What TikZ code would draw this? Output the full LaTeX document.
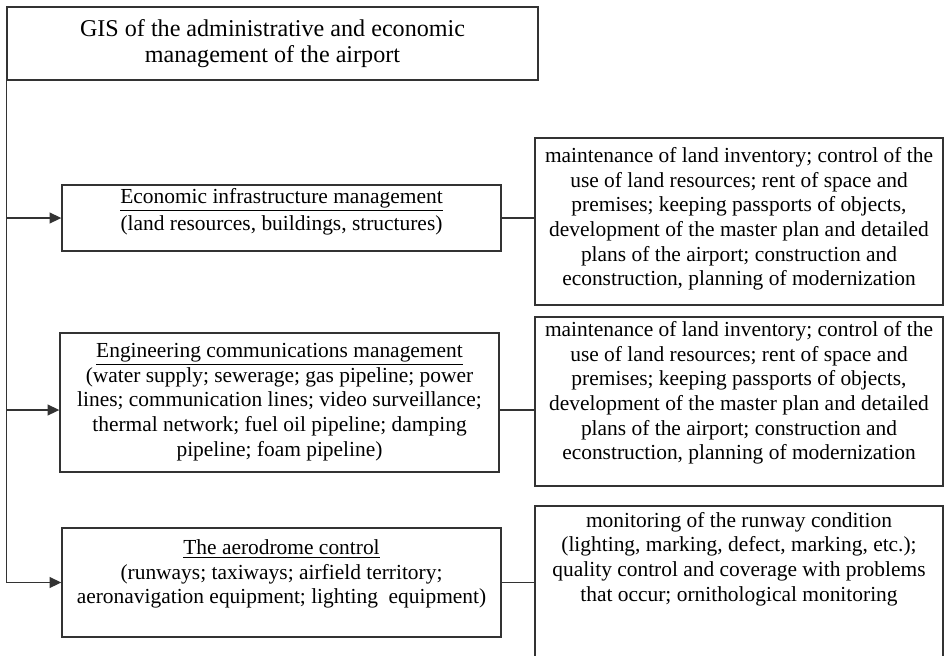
\documentclass[tikz,border=0pt]{standalone}
\usepackage{fontspec}
\setmainfont{Liberation Serif}
\usepackage{tikz}
\usetikzlibrary{arrows.meta}
\usetikzlibrary{positioning}

\begin{document}
\begin{tikzpicture}[
  x=0.56pt,y=-0.56pt,
  line width=0.75pt,
  frame/.style={rectangle,draw=black!80,inner sep=0pt},
  txt/.style={align=center,inner sep=0pt,font=\fontsize{12}{13.8}\selectfont},
  link/.style={draw=black!80},
  arr/.style={link,-{Triangle[length=6.5pt,width=6pt]}}]
\useasboundingbox (0,0) rectangle (944,655);
\clip (0,0) rectangle (944,655);
% title
\node[frame,minimum width=531*0.56pt,minimum height=73*0.56pt,align=center,
  font=\fontsize{13.5}{14.8}\selectfont] (gis) at (272.5,43.5)
  {GIS of the administrative and economic\\management of the airport};
% left column
\node[frame,minimum width=439*0.56pt,minimum height=66*0.56pt] (econ) at (281.5,218) {};
\node[txt] (econ-txt) at (281.5,212)
  {\underline{Economic infrastructure management}\\[1.5pt](land resources, buildings, structures)};
\node[frame,minimum width=439*0.56pt,minimum height=139*0.56pt] (eng) at (279.5,402.5) {};
\node[txt] (eng-txt) at (279.5,402)
  {\underline{Engineering communications management}\\(water supply; sewerage; gas pipeline; power\\
   lines; communication lines; video surveillance;\\thermal network; fuel oil pipeline; damping\\
   pipeline; foam pipeline)};
\node[frame,minimum width=439*0.56pt,minimum height=109*0.56pt] (aero) at (281.5,582.5) {};
\node[txt] (aero-txt) at (281.5,574)
  {\underline{The aerodrome control}\\(runways; taxiways; airfield territory;\\
   aeronavigation equipment; lighting\ \ equipment)};
% right column
\node[frame,minimum width=408*0.56pt,minimum height=167*0.56pt] (econ-tasks) at (739,221.5) {};
\node[txt] (econ-tasks-txt) at (739,219)
  {maintenance of land inventory; control of the\\use of land resources; rent of space and\\
   premises; keeping passports of objects,\\development of the master plan and detailed\\
   plans of the airport; construction and\\econstruction, planning of modernization};
\node[frame,minimum width=408*0.56pt,minimum height=169*0.56pt] (eng-tasks) at (739,401.5) {};
\node[txt] (eng-tasks-txt) at (739,393)
  {maintenance of land inventory; control of the\\use of land resources; rent of space and\\
   premises; keeping passports of objects,\\development of the master plan and detailed\\
   plans of the airport; construction and\\econstruction, planning of modernization};
\node[frame,minimum width=408*0.56pt,minimum height=220*0.56pt] (aero-tasks) at (739,616) {};
\node[txt] (aero-tasks-txt) at (739,559)
  {monitoring of the runway condition\\(lighting, marking, defect, marking, etc.);\\
   quality control and coverage with problems\\that occur; ornithological monitoring};
% connectors
\coordinate (eng-in) at ([yshift=-4.2pt]eng.west);
\coordinate (eng-out) at ([yshift=-4.2pt]eng.east);
\draw[arr] (gis.south west) |- (aero.west);
\draw[arr] (gis.south west |- econ.west) -- (econ.west);
\draw[arr] (gis.south west |- eng-in) -- (eng-in);
\draw[link] (econ.east) -- (econ.east -| econ-tasks.west);
\draw[link] (eng-out) -- (eng-out -| eng-tasks.west);
\draw[link] (aero.east) -- (aero.east -| aero-tasks.west);
\end{tikzpicture}
\end{document}
